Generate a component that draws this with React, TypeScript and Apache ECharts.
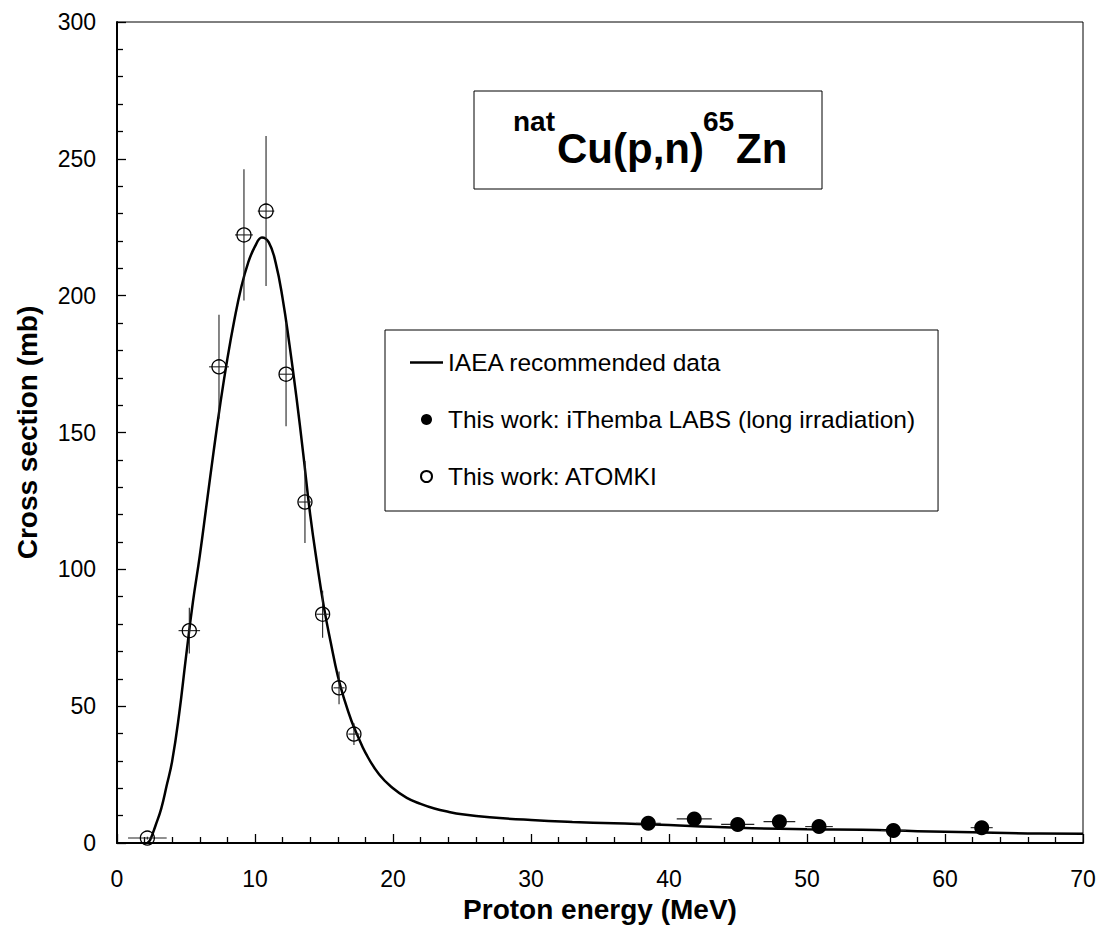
import React, { useEffect, useRef } from "react";
import * as echarts from "echarts";

const curveEnergy = [2.2, 2.4, 2.8, 3.2, 3.6, 4.0, 4.5, 5.0, 5.5, 6.0, 6.5, 7.0, 7.5, 8.0, 8.5, 9.0, 9.5, 10.0, 10.5, 11.0, 11.5, 12.0, 12.5, 13.0, 13.5, 14.0, 14.5, 15.0, 15.5, 16.0, 16.5, 17.0, 17.5, 18.0, 19.0, 20.0, 21.0, 22.0, 23.0, 24.0, 25.0, 27.0, 30.0, 33.0, 36.0, 40.0, 43.0, 46.0, 50.0, 54.0, 58.0, 62.0, 66.0, 70.0];
const curveXs = [0, 1.1, 6.5, 12.5, 21, 30, 47, 68, 88, 105, 124, 143, 161, 177, 191, 203, 212, 218, 221.3, 219.5, 212, 199, 182, 163, 142, 120, 102, 86, 73, 61, 52, 44.5, 38.5, 33, 25, 20, 16.5, 14.3, 12.6, 11.4, 10.5, 9.4, 8.4, 7.7, 7.2, 6.6, 5.9, 5.4, 5.0, 4.8, 4.3, 3.9, 3.5, 3.4];

// ATOMKI (open circles)
const atomkiEnergy = [2.2, 5.24, 7.39, 9.2, 10.8, 12.25, 13.62, 14.9, 16.09, 17.17];
const atomkiXs = [1.8, 77.6, 174, 222.2, 230.9, 171.3, 124.6, 83.6, 56.7, 39.8];
const atomkiEnergyErr = [1.4, 0.78, 0.72, 0.65, 0.6, 0.5, 0.45, 0.45, 0.4, 0.4];
const atomkiXsErr = [0.5, 8.4, 19, 24, 27.4, 19, 15, 8.6, 6, 4];

// iThemba LABS (filled circles)
const ithembaEnergy = [38.5, 41.83, 44.98, 48.0, 50.87, 56.26, 62.66];
const ithembaXs = [7.2, 8.8, 6.8, 7.8, 6.0, 4.6, 5.6];
const ithembaEnergyErr = [0.9, 1.27, 1.2, 1.15, 1.0, 0.9, 0.8];
const ithembaXsErr = [0.8, 0.8, 0.8, 0.8, 0.8, 0.8, 0.8];

const xTicks = { min: 0, max: 70, interval: 10 };
const yTicks = { min: 0, max: 300, interval: 50 };

const FONT = "'Liberation Sans', Arial, sans-serif";

export default function App() {
  const ref = useRef<HTMLDivElement>(null);
  useEffect(() => {
    if (!ref.current) return;
    const chart = echarts.init(ref.current, undefined, { renderer: "svg" });

    const curveData = curveEnergy.map((e, i) => [e, curveXs[i]]);
    const atomkiData = atomkiEnergy.map((e, i) => [e, atomkiXs[i]]);
    const ithembaData = ithembaEnergy.map((e, i) => [e, ithembaXs[i]]);
    const atomkiErrData = atomkiEnergy.map((e, i) => [e, atomkiXs[i], atomkiEnergyErr[i], atomkiXsErr[i], atomkiXsErr[i]]);
    const ithembaErrData = ithembaEnergy.map((e, i) => [e, ithembaXs[i], ithembaEnergyErr[i], ithembaXsErr[i], ithembaXsErr[i]]);

    const errRender = (params: any, api: any) => {
      const x = api.value(0);
      const y = api.value(1);
      const dx = api.value(2);
      const dyLo = api.value(3);
      const dyHi = api.value(4);
      const a = api.coord([x - dx, y]);
      const b = api.coord([x + dx, y]);
      const c = api.coord([x, y - dyLo]);
      const d = api.coord([x, y + dyHi]);
      const st = { stroke: "#222", lineWidth: 1.1 };
      return {
        type: "group",
        children: [
          { type: "line", shape: { x1: a[0], y1: a[1], x2: b[0], y2: b[1] }, style: st },
          { type: "line", shape: { x1: c[0], y1: c[1], x2: d[0], y2: d[1] }, style: st },
        ],
      };
    };

    const axisCommon = {
      axisLine: { show: true, lineStyle: { color: "#000", width: 2 } },
      axisTick: { show: true, inside: true, length: 9, lineStyle: { color: "#000", width: 1.3 } },
      minorTick: { show: true, splitNumber: 5, length: 6, lineStyle: { color: "#000", width: 1.3 } },
      splitLine: { show: false },
      axisLabel: { color: "#000", fontSize: 23, fontFamily: FONT },
      nameTextStyle: { color: "#000", fontSize: 28, fontWeight: "bold", fontFamily: FONT },
    };

    chart.setOption({
      animation: false,
      backgroundColor: "#fff",
      grid: { left: 117, right: 23, top: 22, bottom: 105, show: true, borderColor: "#000", borderWidth: 1, containLabel: false },
      xAxis: {
        type: "value",
        ...xTicks,
        ...axisCommon,
        axisLabel: { ...axisCommon.axisLabel, margin: 24 },
        name: "Proton energy (MeV)",
        nameLocation: "middle",
        nameGap: 52,
      },
      yAxis: {
        type: "value",
        ...yTicks,
        ...axisCommon,
        axisLabel: { ...axisCommon.axisLabel, margin: 21 },
        name: "Cross section (mb)",
        nameLocation: "middle",
        nameGap: 76,
      },
      legend: {
        left: 385,
        top: 330,
        orient: "vertical",
        backgroundColor: "#fff",
        borderColor: "#000",
        borderWidth: 1,
        borderRadius: 0,
        padding: [20, 23, 22, 25],
        itemGap: 32,
        itemWidth: 33,
        itemHeight: 11,
        textStyle: { color: "#000", fontSize: 24.5, fontFamily: FONT, lineHeight: 24 },
        data: [
          { name: "IAEA recommended data", icon: "path://M0,0 L33,0 L33,2.5 L0,2.5 Z", itemStyle: { color: "#000" } },
          { name: "This work: iThemba LABS (long irradiation)" },
          { name: "This work: ATOMKI" },
        ],
      },
      graphic: [
        {
          type: "rect",
          shape: { x: 474, y: 91, width: 348, height: 98 },
          style: { fill: "#fff", stroke: "#000", lineWidth: 1 },
          z: 100,
        },
        { type: "text", x: 513, y: 121, z: 101, style: { text: "nat", font: `bold 28px ${FONT}`, fill: "#000", textAlign: "left", textVerticalAlign: "middle" } },
        { type: "text", x: 557, y: 148, z: 101, style: { text: "Cu(p,n)", font: `bold 42px ${FONT}`, fill: "#000", textAlign: "left", textVerticalAlign: "middle" } },
        { type: "text", x: 703, y: 121, z: 101, style: { text: "65", font: `bold 28px ${FONT}`, fill: "#000", textAlign: "left", textVerticalAlign: "middle" } },
        { type: "text", x: 736, y: 148, z: 101, style: { text: "Zn", font: `bold 42px ${FONT}`, fill: "#000", textAlign: "left", textVerticalAlign: "middle" } },
      ],
      series: [
        {
          name: "IAEA recommended data",
          type: "line",
          data: curveData,
          symbol: "none",
          smooth: 0.45,
          lineStyle: { color: "#000", width: 2.5 },
          itemStyle: { color: "#000" },
          z: 2,
        },
        {
          type: "custom",
          name: "atomki-err",
          data: atomkiErrData,
          renderItem: errRender,
          encode: { x: 0, y: 1 },
          clip: true,
          z: 3,
          silent: true,
        },
        {
          type: "custom",
          name: "ithemba-err",
          data: ithembaErrData,
          renderItem: errRender,
          encode: { x: 0, y: 1 },
          clip: true,
          z: 3,
          silent: true,
        },
        {
          name: "This work: iThemba LABS (long irradiation)",
          type: "scatter",
          data: ithembaData,
          symbol: "circle",
          symbolSize: 15,
          itemStyle: { color: "#000", borderColor: "#000", borderWidth: 0, opacity: 1 },
          z: 4,
        },
        {
          name: "This work: ATOMKI",
          type: "scatter",
          data: atomkiData,
          symbol: "circle",
          symbolSize: 14,
          itemStyle: { color: "rgba(0,0,0,0)", borderColor: "#000", borderWidth: 1.3, opacity: 1 },
          z: 4,
        },
      ],
    });
    return () => chart.dispose();
  }, []);
  return <div ref={ref} style={{ position: "fixed", left: 0, top: 0, width: 1106, height: 948, background: "#fff" }} />;
}
